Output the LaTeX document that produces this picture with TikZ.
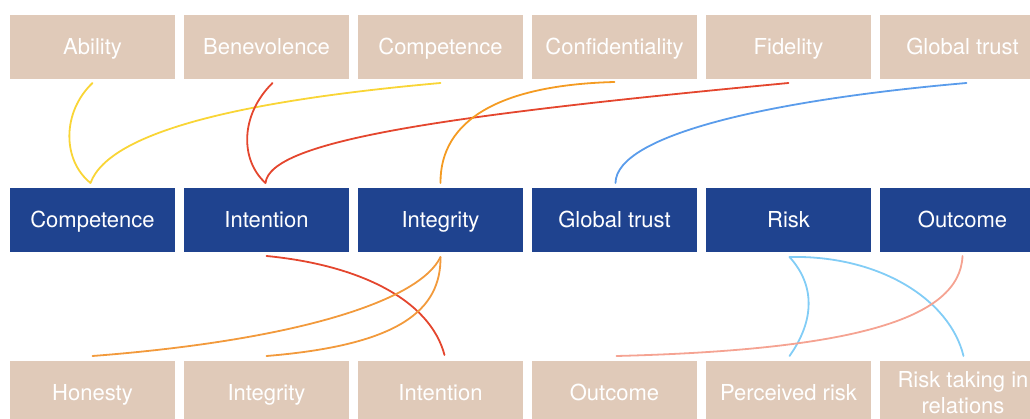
\documentclass[tikz,border=0pt]{standalone}
\usepackage{fontspec}
\setmainfont{TeX Gyre Heros}
\definecolor{tan}{RGB}{224,202,185}
\definecolor{navy}{RGB}{31,67,143}
\definecolor{cyel}{RGB}{249,213,54}
\definecolor{cred}{RGB}{228,70,46}
\definecolor{corg}{RGB}{244,155,34}
\definecolor{cblu}{RGB}{90,156,235}
\definecolor{corg2}{RGB}{242,154,60}
\definecolor{clblu}{RGB}{130,205,246}
\definecolor{csal}{RGB}{245,163,146}
\begin{document}
\begin{tikzpicture}[x=1pt,y=-1pt,
  box/.style={minimum width=165pt,minimum height=64pt,inner sep=0pt,outer sep=0pt,
    font=\fontsize{22}{27}\selectfont,text=white,align=center,
    text height=15.6pt,text depth=0.8pt},
  facet/.style={box,fill=tan},
  dim/.style={box,fill=navy},
  link/.style={line width=1.8pt,line cap=round}]
\useasboundingbox (0,0) rectangle (1030,419);
\clip (0,0) rectangle (1030,419);
% top row
\node[facet] (ability) at (92.5,47) {Ability};
\node[facet] (benev) at (266.5,47) {Benevolence};
\node[facet] (compt) at (440.5,47) {Competence};
\node[facet] (conf) at (614.5,47) {Confidentiality};
\node[facet] (fid) at (788.5,47) {Fidelity};
\node[facet] (glt) at (962.5,47) {Global trust};
% middle row
\node[dim] (mcomp) at (92.5,220) {Competence};
\node[dim] (mint) at (266.5,220) {Intention};
\node[dim] (minteg) at (440.5,220) {Integrity};
\node[dim] (mglob) at (614.5,220) {Global trust};
\node[dim] (mrisk) at (788.5,220) {Risk};
\node[dim] (mout) at (962.5,220) {Outcome};
% bottom row
\node[facet] (hon) at (92.5,393) {Honesty};
\node[facet] (binteg) at (266.5,393) {Integrity};
\node[facet] (bint) at (440.5,393) {Intention};
\node[facet] (bout) at (614.5,393) {Outcome};
\node[facet] (bperc) at (788.5,393) {Perceived risk};
\node[facet,anchor=north] (brt) at (962.5,361) {};
\node[font=\fontsize{22}{26}\selectfont,text=white,align=center,inner sep=0pt] (brtt) at (963,393) {Risk taking in\\relations};
% anchor points
\coordinate (a0) at ([yshift=-4pt]ability.south);
\coordinate (b0) at ([xshift=6pt,yshift=-4pt]benev.south);
\coordinate (c0) at ([yshift=-4pt]compt.south);
\coordinate (d0) at ([yshift=-3pt]conf.south);
\coordinate (f0) at ([yshift=-4pt]fid.south);
\coordinate (g0) at ([xshift=4pt,yshift=-4pt]glt.south);
\coordinate (m1) at ([xshift=-2pt,yshift=5pt]mcomp.north);
\coordinate (m2) at ([xshift=-1pt,yshift=5pt]mint.north);
\coordinate (m3) at ([yshift=5pt]minteg.north);
\coordinate (m4) at ([xshift=1pt,yshift=5pt]mglob.north);
\coordinate (n2) at ([yshift=-4pt]mint.south);
\coordinate (n3) at ([yshift=-5pt]minteg.south);
\coordinate (n5) at ([xshift=1pt,yshift=-5pt]mrisk.south);
\coordinate (n6) at ([yshift=-4pt]mout.south);
\coordinate (h0) at ([yshift=5pt]hon.north);
\coordinate (i0) at ([yshift=5pt]binteg.north);
\coordinate (j0) at ([xshift=4pt,yshift=6pt]bint.north);
\coordinate (o0) at ([xshift=2pt,yshift=5pt]bout.north);
\coordinate (p0) at ([xshift=1pt,yshift=5pt]bperc.north);
\coordinate (r0) at ([xshift=1pt,yshift=5pt]brt.north);
% top connectors
\draw[link,cyel] (a0) .. controls (62,112) and (62,160) .. (m1);
\draw[link,cyel] (c0) .. controls (250,100) and (110,130) .. (m1);
\draw[link,cred] (b0) .. controls (240,115) and (240,160) .. (m2);
\draw[link,cred] (f0) .. controls (450,115) and (270,140) .. (m2);
\draw[link,corg] (d0) .. controls (500,85) and (440,120) .. (m3);
\draw[link,cblu] (g0) .. controls (770,100) and (616,135) .. (m4);
% bottom connectors
\draw[link,cred] (n2) .. controls (360,265) and (430,300) .. (j0);
\draw[link,corg2] (n3) .. controls (420,300) and (300,340) .. (h0);
\draw[link,corg2] (n3) .. controls (441,310) and (400,345) .. (i0);
\draw[link,clblu] (n5) .. controls (815,285) and (815,320) .. (p0);
\draw[link,clblu] (n5) .. controls (880,255) and (950,300) .. (r0);
\draw[link,csal] (n6) .. controls (960,320) and (850,350) .. (o0);
\end{tikzpicture}
\end{document}
